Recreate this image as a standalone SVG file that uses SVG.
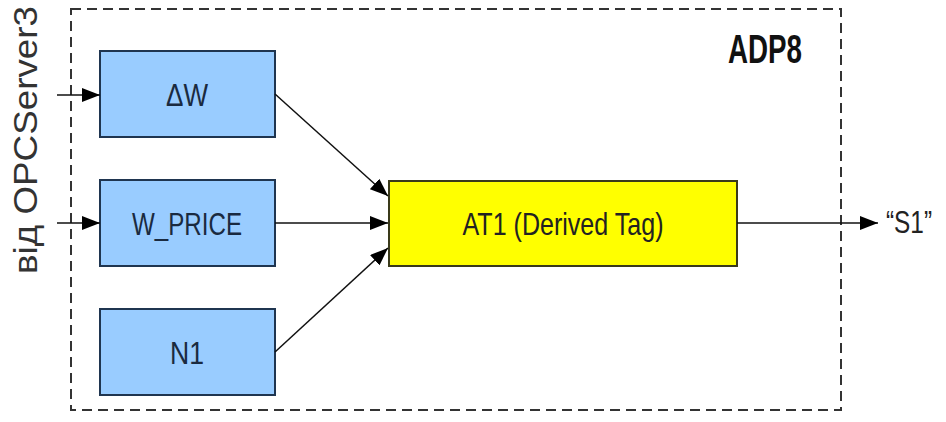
<svg xmlns="http://www.w3.org/2000/svg" width="946" height="422" viewBox="0 0 946 422">
  <defs>
    <marker id="arrow" viewBox="0 0 18 14" refX="18" refY="7" markerWidth="18" markerHeight="14" markerUnits="userSpaceOnUse" orient="auto">
      <path d="M0,0 L18,7 L0,14 z" fill="#000"/>
    </marker>
    <style>
      .tag { fill: #99ccff; stroke: #1f3550; stroke-width: 2; }
      .derived { fill: #ffff00; stroke: #3a3a1a; stroke-width: 2; }
      .lbl { font-family: "Liberation Sans", Arial, sans-serif; font-size: 32px; fill: #1a2a40; text-anchor: middle; }
      .wire { stroke: #111; stroke-width: 1.5; fill: none; marker-end: url(#arrow); }
    </style>
  </defs>
  <rect width="946" height="422" fill="#fff"/>

  <!-- ADP8 container -->
  <g id="adp8">
    <rect x="71" y="9" width="770" height="401" fill="none" stroke="#333" stroke-width="2" stroke-dasharray="10 6"/>
    <text x="765" y="63" font-family="Liberation Sans, Arial, sans-serif" font-size="40" font-weight="bold" fill="#111" text-anchor="middle" textLength="74" lengthAdjust="spacingAndGlyphs">ADP8</text>
  </g>

  <!-- source label -->
  <g id="source">
    <text transform="translate(37,140) rotate(-90)" font-family="Liberation Sans, Arial, sans-serif" font-size="33" fill="#333" text-anchor="middle" textLength="268" lengthAdjust="spacingAndGlyphs">від OPCServer3</text>
  </g>

  <g id="dw">
    <rect class="tag" x="100" y="51" width="175" height="86"/>
    <text class="lbl" x="187" y="106" textLength="42" lengthAdjust="spacingAndGlyphs">ΔW</text>
  </g>
  <g id="w_price">
    <rect class="tag" x="100" y="180" width="175" height="86"/>
    <text class="lbl" x="187" y="235" textLength="110" lengthAdjust="spacingAndGlyphs">W_PRICE</text>
  </g>
  <g id="n1">
    <rect class="tag" x="100" y="309" width="175" height="86"/>
    <text class="lbl" x="187" y="364" textLength="34" lengthAdjust="spacingAndGlyphs">N1</text>
  </g>
  <g id="at1">
    <rect class="derived" x="389" y="181" width="348" height="85"/>
    <text class="lbl" x="563" y="235" style="fill:#222" textLength="201" lengthAdjust="spacingAndGlyphs">AT1 (Derived Tag)</text>
  </g>
  <g id="out">
    <text x="886" y="233" font-family="Liberation Sans, Arial, sans-serif" font-size="32" fill="#222" textLength="46" lengthAdjust="spacingAndGlyphs">“S1”</text>
  </g>

  <g id="connectors">
    <line class="wire" x1="57" y1="95" x2="100" y2="95"/>
    <line class="wire" x1="57" y1="223" x2="100" y2="223"/>
    <line class="wire" x1="275" y1="94" x2="388" y2="196"/>
    <line class="wire" x1="275" y1="223" x2="388" y2="223"/>
    <line class="wire" x1="275" y1="352" x2="388" y2="248"/>
    <line class="wire" x1="737" y1="223" x2="878" y2="223"/>
  </g>
</svg>
